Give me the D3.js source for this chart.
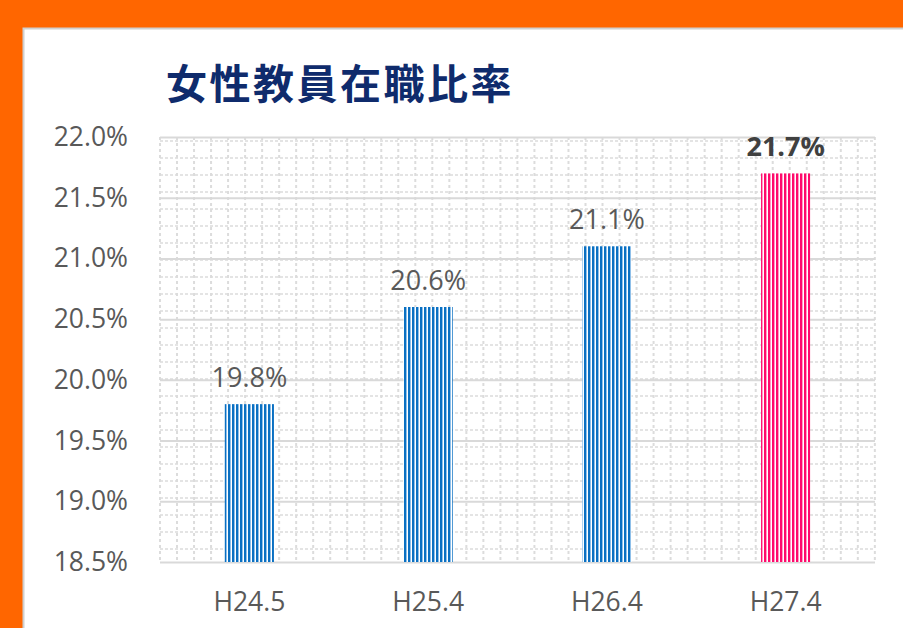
<!DOCTYPE html>
<html>
<head>
<meta charset="utf-8">
<script src="https://cdn.jsdelivr.net/npm/d3@7"></script>
<style>
  body { margin: 0; background: #ff6600; }
  svg { display: block; }
</style>
</head>
<body>
<script>
var categories = ["H24.5", "H25.4", "H26.4", "H27.4"];
var rates = [19.8, 20.6, 21.1, 21.7];
var yTicks = [18.5, 19.0, 19.5, 20.0, 20.5, 21.0, 21.5, 22.0];

function init() {
    var w = 903, h = 628;
    var plotLeft = 160, plotRight = 875, plotTop = 137, plotBottom = 562;

    var svg = d3.select("body").append("svg")
        .attr("width", w)
        .attr("height", h);

    var defs = svg.append("defs");

    function stripes(id, dark, light) {
        var p = defs.append("pattern")
            .attr("id", id)
            .attr("patternUnits", "userSpaceOnUse")
            .attr("width", 4)
            .attr("height", 4);
        p.append("rect").attr("width", 4).attr("height", 4).attr("fill", "#fff");
        p.append("rect").attr("x", 0).attr("width", 2).attr("height", 4).attr("fill", dark);
        p.append("rect").attr("x", 2).attr("width", 1).attr("height", 4).attr("fill", light);
    }
    stripes("blueStripe", "#0a70c2", "#8fc0ea");
    stripes("pinkStripe", "#ff0a6c", "#ff9cc4");

    // white panel
    svg.append("rect")
        .attr("x", 23.5)
        .attr("y", 28.5)
        .attr("width", w)
        .attr("height", h)
        .attr("fill", "#fff")
        .attr("stroke", "#d0d0d0")
        .attr("stroke-width", 2);

    svg.append("text")
        .attr("x", 166)
        .attr("y", 99)
        .attr("font-family", "Noto Sans CJK JP")
        .attr("font-weight", "bold")
        .attr("font-size", 41)
        .attr("letter-spacing", 2.5)
        .attr("fill", "#0f2b6c")
        .text("女性教員在職比率");

    var x = d3.scaleBand()
        .domain(categories)
        .range([plotLeft, plotRight]);

    var y = d3.scaleLinear()
        .domain([18.5, 22.0])
        .range([plotBottom, plotTop]);

    // minor dashed grid (background graph paper)
    var grid = svg.append("g");
    grid.selectAll("line.h")
        .data(d3.range(141, plotBottom, 17))
        .enter().append("line")
        .attr("x1", plotLeft).attr("x2", plotRight)
        .attr("y1", function(d) { return d; })
        .attr("y2", function(d) { return d; })
        .attr("stroke", "#dcdcdc")
        .attr("stroke-width", 1.5)
        .attr("stroke-dasharray", "3,2");
    grid.selectAll("line.v")
        .data(d3.range(plotLeft, plotRight + 1, 17.02))
        .enter().append("line")
        .attr("y1", plotTop).attr("y2", plotBottom)
        .attr("x1", function(d) { return d; })
        .attr("x2", function(d) { return d; })
        .attr("stroke", "#dcdcdc")
        .attr("stroke-width", 2)
        .attr("stroke-dasharray", "3,3");

    var yAxis = d3.axisLeft(y)
        .tickValues(yTicks)
        .tickSize(-(plotRight - plotLeft))
        .tickPadding(32)
        .tickFormat(function(d) { return d.toFixed(1) + "%"; });

    var gy = svg.append("g")
        .attr("transform", "translate(" + plotLeft + ",0)")
        .call(yAxis);
    gy.select(".domain").remove();
    gy.selectAll("line").attr("stroke", "#d9d9d9").attr("stroke-width", 2);
    gy.selectAll("text")
        .attr("font-family", "Open Sans")
        .attr("font-size", 26.5)
        .attr("fill", "#595959");

    var xAxis = d3.axisBottom(x).tickSize(0).tickPadding(30);
    var gx = svg.append("g")
        .attr("transform", "translate(0," + plotBottom + ")")
        .call(xAxis);
    gx.select(".domain").remove();
    gx.selectAll("text")
        .attr("font-family", "Open Sans")
        .attr("font-size", 26.5)
        .attr("fill", "#595959");

    var barW = x.bandwidth() * 0.275;

    svg.selectAll("rect.bar")
        .data(rates)
        .enter().append("rect")
        .attr("class", "bar")
        .attr("x", function(d, i) { return x(categories[i]) + x.bandwidth() / 2 - barW / 2; })
        .attr("y", function(d) { return y(d); })
        .attr("width", barW)
        .attr("height", function(d) { return plotBottom - y(d); })
        .attr("fill", function(d, i) { return i === 3 ? "url(#pinkStripe)" : "url(#blueStripe)"; });

    svg.selectAll("text.val")
        .data(rates)
        .enter().append("text")
        .attr("class", "val")
        .attr("x", function(d, i) { return x(categories[i]) + x.bandwidth() / 2; })
        .attr("y", function(d) { return y(d) - 17; })
        .attr("text-anchor", "middle")
        .attr("font-family", "Open Sans")
        .attr("font-size", 27)
        .attr("font-weight", function(d, i) { return i === 3 ? "bold" : "normal"; })
        .attr("fill", function(d, i) { return i === 3 ? "#404040" : "#595959"; })
        .text(function(d) { return d.toFixed(1) + "%"; });
}
window.onload = init;
</script>
</body>
</html>
